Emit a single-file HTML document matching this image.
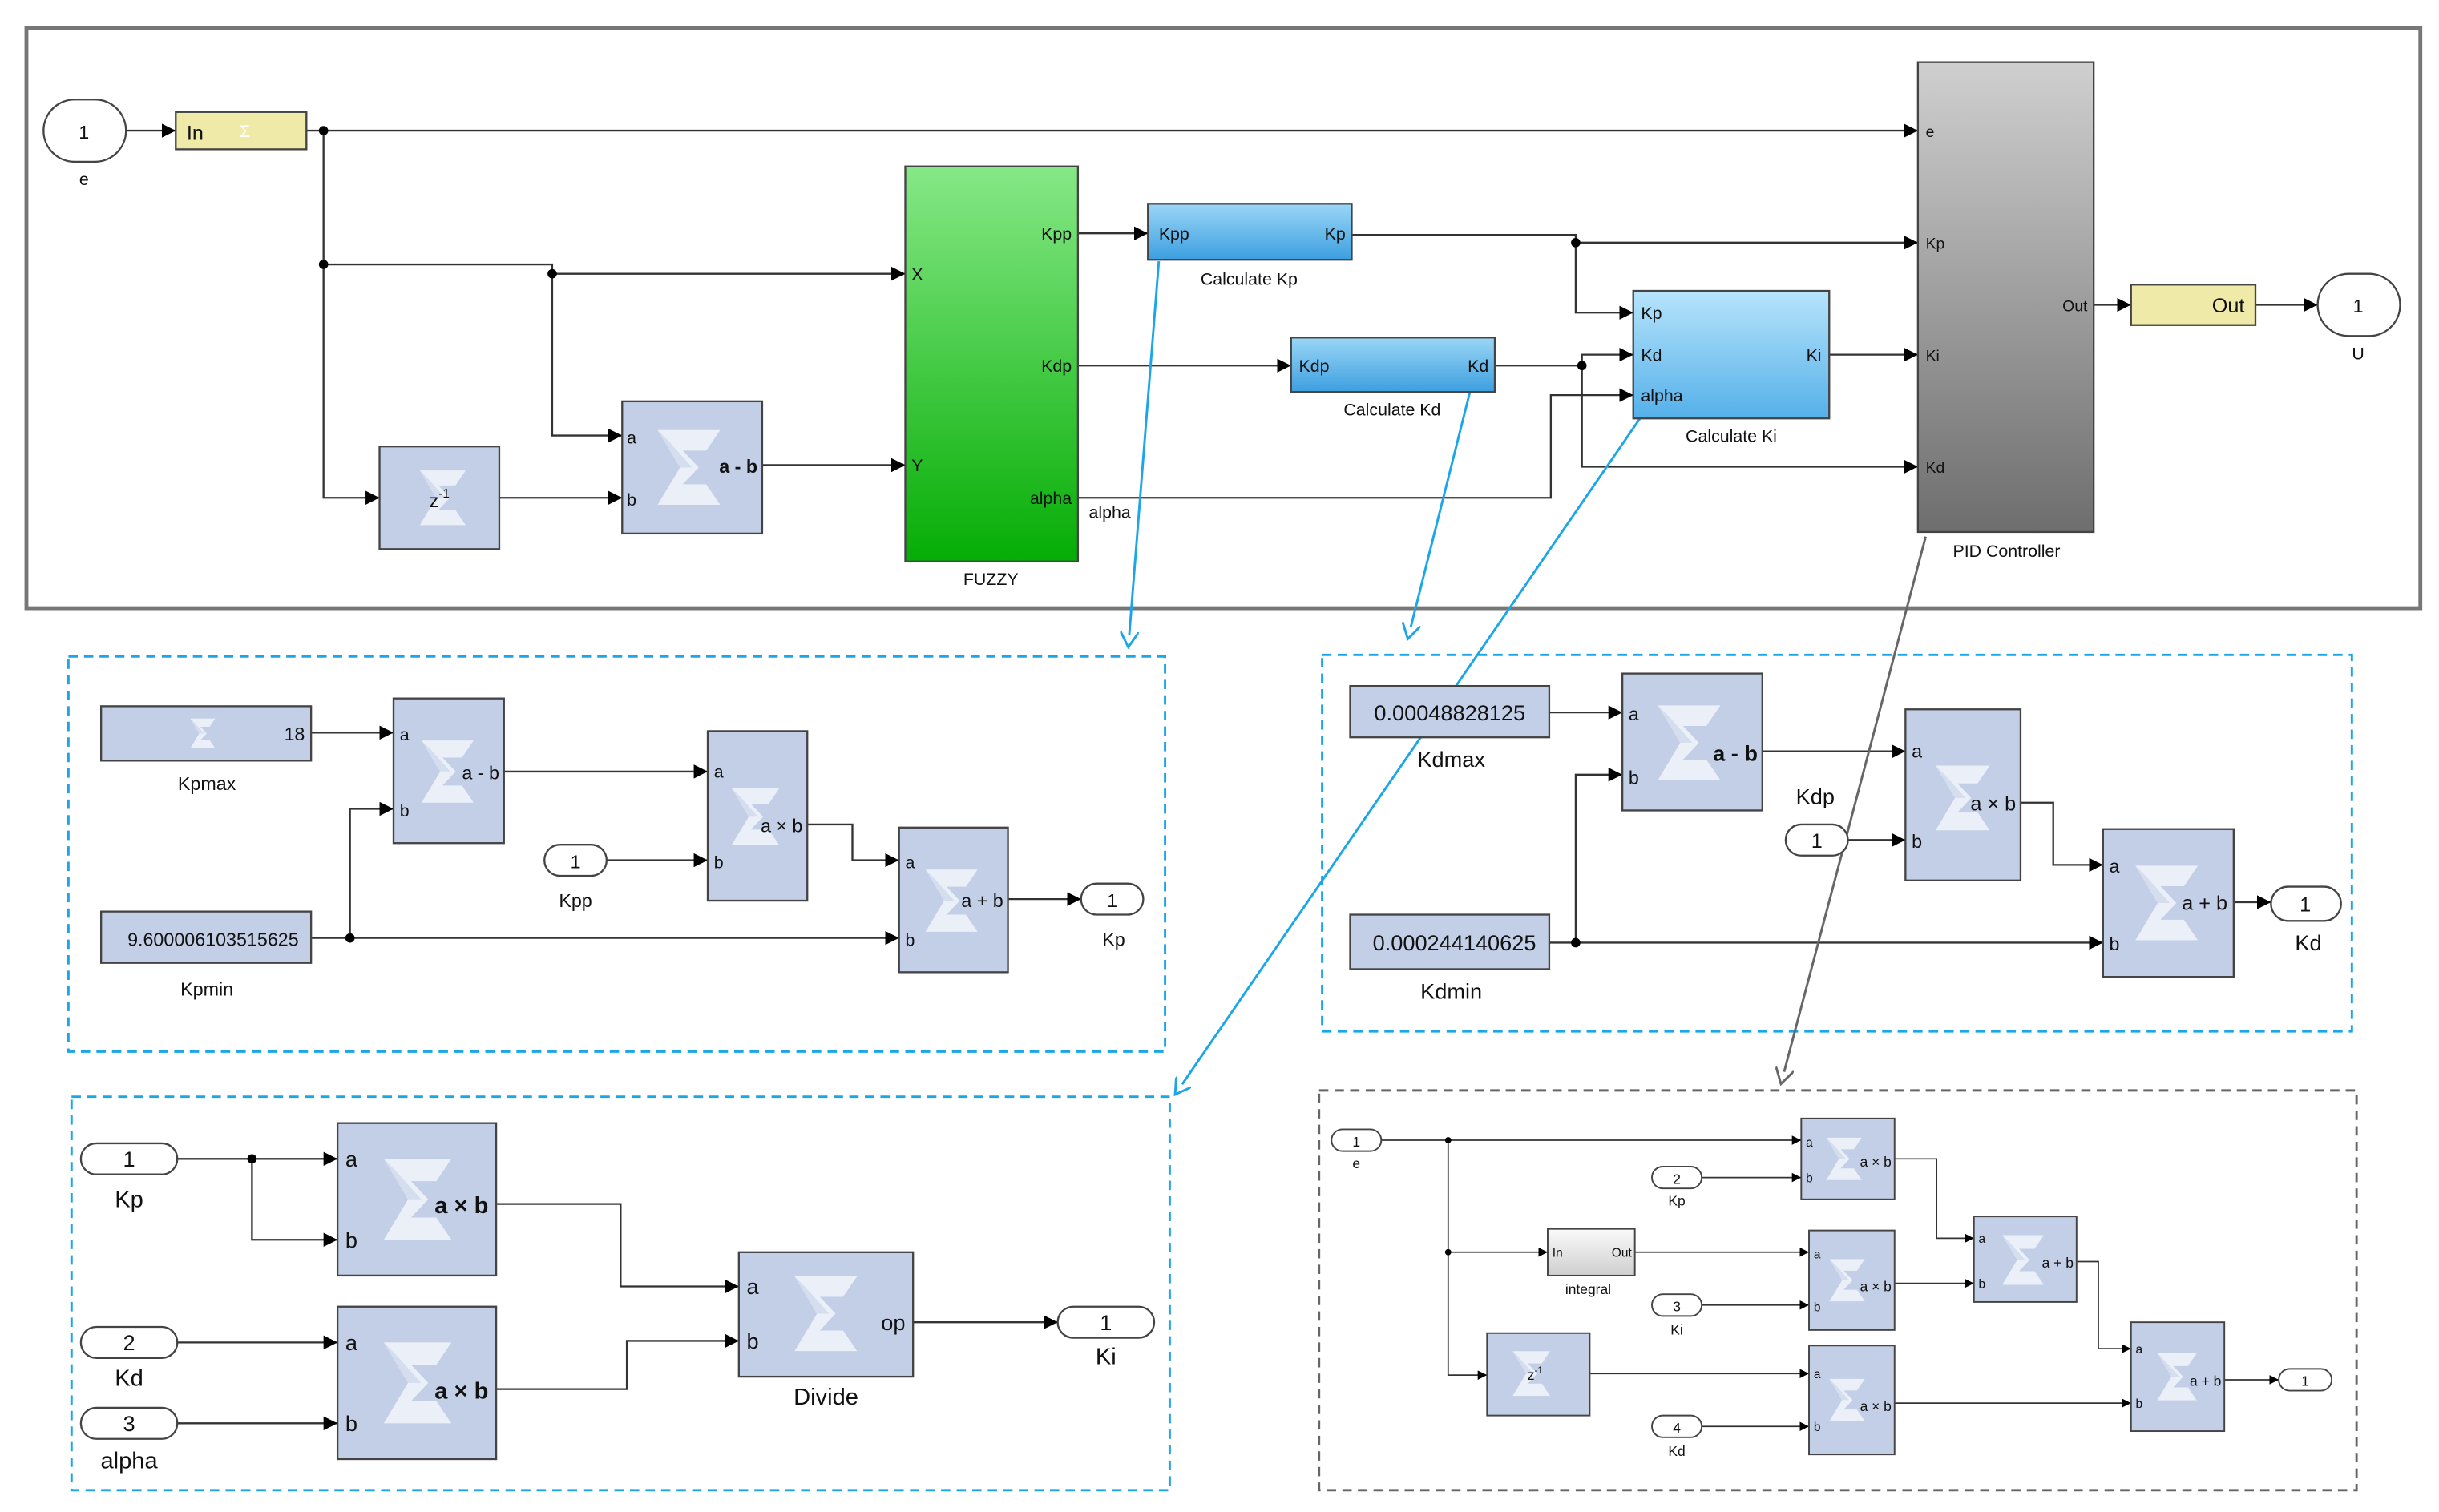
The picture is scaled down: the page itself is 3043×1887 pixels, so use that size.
<!DOCTYPE html>
<html><head><meta charset="utf-8"><style>
html,body{margin:0;padding:0;background:#fff}
svg{display:block}
text{font-family:"Liberation Sans",sans-serif;fill:#111}
</style></head><body>
<svg width="3043" height="1887" viewBox="0 0 1568 972" preserveAspectRatio="none" xmlns="http://www.w3.org/2000/svg">
<defs>
<marker id="a" markerUnits="userSpaceOnUse" markerWidth="9" markerHeight="9" refX="9" refY="4.5" orient="auto"><path d="M0,0 L9,4.5 L0,9 z" fill="#000"/></marker>
<marker id="s" markerUnits="userSpaceOnUse" markerWidth="6" markerHeight="6" refX="6" refY="3" orient="auto"><path d="M0,0 L6,3 L0,6 z" fill="#000"/></marker>
<marker id="ab" markerUnits="userSpaceOnUse" markerWidth="12" markerHeight="12" refX="2" refY="6" orient="auto"><path d="M0,0 L10,6 L0,12" fill="none" stroke="#1aa6e8" stroke-width="1.5"/></marker>
<marker id="ag" markerUnits="userSpaceOnUse" markerWidth="12" markerHeight="12" refX="2" refY="6" orient="auto"><path d="M0,0 L10,6 L0,12" fill="none" stroke="#666" stroke-width="1.5"/></marker>
<symbol id="sig" viewBox="0 0 100 100"><polygon points="18,10 85,10 70,32 45,32 62,50 45,68 70,68 85,90 18,90 42,50" fill="#eef2fa" opacity="0.9"/><polygon points="18,10 30,22 55,50 42,50" fill="#d5deee"/></symbol>
<linearGradient id="gg" x1="0" y1="0" x2="0" y2="1"><stop offset="0" stop-color="#86e886"/><stop offset="1" stop-color="#05ad05"/></linearGradient>
<linearGradient id="gb" x1="0" y1="0" x2="0" y2="1"><stop offset="0" stop-color="#9ad6f6"/><stop offset="1" stop-color="#3d9fe0"/></linearGradient>
<linearGradient id="gb2" x1="0" y1="0" x2="0" y2="1"><stop offset="0" stop-color="#b6e4fb"/><stop offset="1" stop-color="#55b0ea"/></linearGradient>
<linearGradient id="gp" x1="0" y1="0" x2="0" y2="1"><stop offset="0" stop-color="#cfcfcf"/><stop offset="1" stop-color="#6e6e6e"/></linearGradient>
<linearGradient id="gi" x1="0" y1="0" x2="0" y2="1"><stop offset="0" stop-color="#fafafa"/><stop offset="1" stop-color="#cfcfcf"/></linearGradient>
</defs>
<g stroke="#333" stroke-width="1.2" fill="none">
<!-- TOP -->
<rect x="17" y="18" width="1539" height="373" stroke="#777" stroke-width="2.5"/>
<path d="M81,84 H113" marker-end="url(#a)"/>
<path d="M197,84 H1233" marker-end="url(#a)"/>
<path d="M208,84 V320 H244" marker-end="url(#a)"/>
<path d="M208,170 H355 V280 H400" marker-end="url(#a)"/>
<path d="M355,176 H582" marker-end="url(#a)"/>
<path d="M321,320 H400" marker-end="url(#a)"/>
<path d="M490,299 H582" marker-end="url(#a)"/>
<path d="M693,150 H738" marker-end="url(#a)"/>
<path d="M869,151 H1013 V156 H1233" marker-end="url(#a)"/>
<path d="M1013,156 V201 H1050" marker-end="url(#a)"/>
<path d="M693,235 H830" marker-end="url(#a)"/>
<path d="M961,235 H1017 V228 H1050" marker-end="url(#a)"/>
<path d="M1017,235 V300 H1233" marker-end="url(#a)"/>
<path d="M693,320 H997 V254 H1050" marker-end="url(#a)"/>
<path d="M1176,228 H1233" marker-end="url(#a)"/>
<path d="M1346,196 H1370" marker-end="url(#a)"/>
<path d="M1450,196 H1490" marker-end="url(#a)"/>
<!-- PANEL A -->
<rect x="44" y="422" width="705" height="254" stroke="#1aa6e8" stroke-width="1.5" stroke-dasharray="6,4"/>
<path d="M200,471 H253" marker-end="url(#a)"/>
<path d="M200,603 H578" marker-end="url(#a)"/>
<path d="M225,603 V520 H253" marker-end="url(#a)"/>
<path d="M324,496 H455" marker-end="url(#a)"/>
<path d="M390,553 H455" marker-end="url(#a)"/>
<path d="M519,530 H548 V553 H578" marker-end="url(#a)"/>
<path d="M648,578 H695" marker-end="url(#a)"/>
<!-- PANEL B -->
<rect x="850" y="421" width="662" height="242" stroke="#1aa6e8" stroke-width="1.5" stroke-dasharray="6,4"/>
<path d="M996,458 H1043" marker-end="url(#a)"/>
<path d="M996,606 H1352" marker-end="url(#a)"/>
<path d="M1013,606 V498 H1043" marker-end="url(#a)"/>
<path d="M1133,483 H1225" marker-end="url(#a)"/>
<path d="M1188,540 H1225" marker-end="url(#a)"/>
<path d="M1299,516 H1320 V556 H1352" marker-end="url(#a)"/>
<path d="M1436,580 H1460" marker-end="url(#a)"/>
<!-- PANEL C -->
<rect x="46" y="705" width="706" height="253" stroke="#1aa6e8" stroke-width="1.5" stroke-dasharray="6,4"/>
<path d="M114,745 H217" marker-end="url(#a)"/>
<path d="M162,745 V797 H217" marker-end="url(#a)"/>
<path d="M114,863 H217" marker-end="url(#a)"/>
<path d="M114,915 H217" marker-end="url(#a)"/>
<path d="M319,774 H399 V827 H475" marker-end="url(#a)"/>
<path d="M319,893 H403 V862 H475" marker-end="url(#a)"/>
<path d="M587,850 H680" marker-end="url(#a)"/>
<!-- PANEL D -->
<rect x="848" y="701" width="667" height="257" stroke="#666" stroke-width="1.5" stroke-dasharray="6,4"/>
<g stroke-width="0.9">
<path d="M888,733 H1158" marker-end="url(#s)"/>
<path d="M931,733 V884 H956" marker-end="url(#s)"/>
<path d="M931,805 H995" marker-end="url(#s)"/>
<path d="M1094,757 H1158" marker-end="url(#s)"/>
<path d="M1218,745 H1245 V796 H1269" marker-end="url(#s)"/>
<path d="M1051,805 H1163" marker-end="url(#s)"/>
<path d="M1094,839 H1163" marker-end="url(#s)"/>
<path d="M1218,825 H1269" marker-end="url(#s)"/>
<path d="M1335,811 H1349 V867 H1370" marker-end="url(#s)"/>
<path d="M1022,883 H1163" marker-end="url(#s)"/>
<path d="M1094,917 H1163" marker-end="url(#s)"/>
<path d="M1218,902 H1370" marker-end="url(#s)"/>
<path d="M1430,887 H1465" marker-end="url(#s)"/>
</g>
<!-- callouts -->
<path d="M745,168 L726,408" stroke="#1aa6e8" stroke-width="1.5" marker-end="url(#ab)"/>
<path d="M945,252 L907,403" stroke="#1aa6e8" stroke-width="1.5" marker-end="url(#ab)"/>
<path d="M1055,268 L760,697" stroke="#1aa6e8" stroke-width="1.5" marker-end="url(#ab)"/>
<path d="M1238,345 L1147,689" stroke="#666" stroke-width="1.5" marker-end="url(#ag)"/>
</g>
<!-- junction dots -->
<g fill="#000">
<circle cx="208" cy="84" r="3"/><circle cx="208" cy="170" r="3"/><circle cx="355" cy="176" r="3"/>
<circle cx="1013" cy="156" r="3"/><circle cx="1017" cy="235" r="3"/>
<circle cx="225" cy="603" r="3"/><circle cx="1013" cy="606" r="3"/><circle cx="162" cy="745" r="3"/>
<circle cx="931" cy="733" r="2"/><circle cx="931" cy="805" r="2"/>
</g>
<!-- TOP blocks -->
<g stroke="#444" stroke-width="1.2">
<rect x="28" y="64" width="53" height="40" rx="20" fill="#fff"/>
<rect x="113" y="72" width="84" height="24" fill="#f0eaa8"/>
<rect x="244" y="287" width="77" height="66" fill="#c3cfe6"/>
<rect x="400" y="258" width="90" height="85" fill="#c3cfe6"/>
<rect x="582" y="107" width="111" height="254" fill="url(#gg)"/>
<rect x="738" y="131" width="131" height="36" fill="url(#gb)"/>
<rect x="830" y="217" width="131" height="35" fill="url(#gb)"/>
<rect x="1050" y="187" width="126" height="82" fill="url(#gb2)"/>
<rect x="1233" y="40" width="113" height="302" fill="url(#gp)"/>
<rect x="1370" y="183" width="80" height="26" fill="#f0eaa8"/>
<rect x="1490" y="176" width="53" height="40" rx="20" fill="#fff"/>
</g>
<use href="#sig" x="262" y="295" width="44" height="50"/>
<use href="#sig" x="412" y="268" width="60" height="65"/>
<text x="54" y="89" font-size="12" text-anchor="middle">1</text>
<text x="54" y="119" font-size="11" text-anchor="middle">e</text>
<text x="120" y="90" font-size="13">In</text>
<text x="154" y="88" font-size="11" fill="#fff" style="fill:#fff">Σ</text>
<text x="276" y="326" font-size="12">z<tspan font-size="8" dy="-6">-1</tspan></text>
<text x="403" y="285" font-size="11">a</text><text x="403" y="325" font-size="11">b</text>
<text x="487" y="304" font-size="12" text-anchor="end" font-weight="bold">a - b</text>
<text x="586" y="180" font-size="11">X</text><text x="586" y="303" font-size="11">Y</text>
<text x="689" y="154" font-size="11" text-anchor="end">Kpp</text>
<text x="689" y="239" font-size="11" text-anchor="end">Kdp</text>
<text x="689" y="324" font-size="11" text-anchor="end">alpha</text>
<text x="700" y="333" font-size="11">alpha</text>
<text x="637" y="376" font-size="11" text-anchor="middle">FUZZY</text>
<text x="745" y="154" font-size="11">Kpp</text><text x="865" y="154" font-size="11" text-anchor="end">Kp</text>
<text x="803" y="183" font-size="11" text-anchor="middle">Calculate Kp</text>
<text x="835" y="239" font-size="11">Kdp</text><text x="957" y="239" font-size="11" text-anchor="end">Kd</text>
<text x="895" y="267" font-size="11" text-anchor="middle">Calculate Kd</text>
<text x="1055" y="205" font-size="11">Kp</text><text x="1055" y="232" font-size="11">Kd</text><text x="1055" y="258" font-size="11">alpha</text>
<text x="1171" y="232" font-size="11" text-anchor="end">Ki</text>
<text x="1113" y="284" font-size="11" text-anchor="middle">Calculate Ki</text>
<text x="1238" y="88" font-size="10">e</text><text x="1238" y="160" font-size="10">Kp</text>
<text x="1238" y="232" font-size="10">Ki</text><text x="1238" y="304" font-size="10">Kd</text>
<text x="1342" y="200" font-size="10" text-anchor="end">Out</text>
<text x="1290" y="358" font-size="11" text-anchor="middle">PID Controller</text>
<text x="1443" y="201" font-size="13" text-anchor="end">Out</text>
<text x="1516" y="201" font-size="12" text-anchor="middle">1</text>
<text x="1516" y="231" font-size="11" text-anchor="middle">U</text>
<!-- PANEL A blocks -->
<g stroke="#444" stroke-width="1.2">
<rect x="65" y="454" width="135" height="35" fill="#c3cfe6"/>
<rect x="65" y="586" width="135" height="33" fill="#c3cfe6"/>
<rect x="253" y="449" width="71" height="93" fill="#c3cfe6"/>
<rect x="350" y="543" width="40" height="20" rx="10" fill="#fff"/>
<rect x="455" y="470" width="64" height="109" fill="#c3cfe6"/>
<rect x="578" y="532" width="70" height="93" fill="#c3cfe6"/>
<rect x="695" y="568" width="40" height="20" rx="10" fill="#fff"/>
</g>
<use href="#sig" x="118" y="459" width="24" height="25"/>
<use href="#sig" x="262" y="465" width="50" height="62"/>
<use href="#sig" x="462" y="490" width="46" height="70"/>
<use href="#sig" x="586" y="548" width="50" height="62"/>
<text x="196" y="476" font-size="12" text-anchor="end">18</text>
<text x="133" y="508" font-size="12" text-anchor="middle">Kpmax</text>
<text x="137" y="608" font-size="12" text-anchor="middle">9.600006103515625</text>
<text x="133" y="640" font-size="12" text-anchor="middle">Kpmin</text>
<text x="257" y="476" font-size="11">a</text><text x="257" y="525" font-size="11">b</text>
<text x="321" y="501" font-size="12" text-anchor="end">a - b</text>
<text x="370" y="558" font-size="12" text-anchor="middle">1</text><text x="370" y="583" font-size="12" text-anchor="middle">Kpp</text>
<text x="459" y="500" font-size="11">a</text><text x="459" y="558" font-size="11">b</text>
<text x="516" y="535" font-size="12" text-anchor="end">a × b</text>
<text x="582" y="558" font-size="11">a</text><text x="582" y="608" font-size="11">b</text>
<text x="645" y="583" font-size="12" text-anchor="end">a + b</text>
<text x="715" y="583" font-size="12" text-anchor="middle">1</text><text x="716" y="608" font-size="12" text-anchor="middle">Kp</text>
<!-- PANEL B blocks -->
<g stroke="#444" stroke-width="1.2">
<rect x="868" y="441" width="128" height="33" fill="#c3cfe6"/>
<rect x="868" y="588" width="128" height="35" fill="#c3cfe6"/>
<rect x="1043" y="433" width="90" height="88" fill="#c3cfe6"/>
<rect x="1148" y="530" width="40" height="20" rx="10" fill="#fff"/>
<rect x="1225" y="456" width="74" height="110" fill="#c3cfe6"/>
<rect x="1352" y="533" width="84" height="95" fill="#c3cfe6"/>
<rect x="1460" y="570" width="45" height="22" rx="11" fill="#fff"/>
</g>
<use href="#sig" x="1055" y="445" width="60" height="65"/>
<use href="#sig" x="1235" y="478" width="52" height="70"/>
<use href="#sig" x="1362" y="548" width="60" height="65"/>
<text x="932" y="463" font-size="14" text-anchor="middle">0.00048828125</text>
<text x="933" y="493" font-size="14" text-anchor="middle">Kdmax</text>
<text x="935" y="611" font-size="14" text-anchor="middle">0.000244140625</text>
<text x="933" y="642" font-size="14" text-anchor="middle">Kdmin</text>
<text x="1047" y="463" font-size="12">a</text><text x="1047" y="504" font-size="12">b</text>
<text x="1130" y="489" font-size="14" text-anchor="end" font-weight="bold">a - b</text>
<text x="1167" y="517" font-size="14" text-anchor="middle">Kdp</text>
<text x="1168" y="545" font-size="13" text-anchor="middle">1</text>
<text x="1229" y="487" font-size="12">a</text><text x="1229" y="545" font-size="12">b</text>
<text x="1296" y="521" font-size="13" text-anchor="end">a × b</text>
<text x="1356" y="561" font-size="12">a</text><text x="1356" y="611" font-size="12">b</text>
<text x="1432" y="585" font-size="13" text-anchor="end">a + b</text>
<text x="1482" y="586" font-size="13" text-anchor="middle">1</text>
<text x="1484" y="611" font-size="14" text-anchor="middle">Kd</text>
<!-- PANEL C blocks -->
<g stroke="#444" stroke-width="1.2">
<rect x="52" y="735" width="62" height="20" rx="10" fill="#fff"/>
<rect x="52" y="853" width="62" height="20" rx="10" fill="#fff"/>
<rect x="52" y="905" width="62" height="20" rx="10" fill="#fff"/>
<rect x="217" y="722" width="102" height="98" fill="#c3cfe6"/>
<rect x="217" y="840" width="102" height="98" fill="#c3cfe6"/>
<rect x="475" y="805" width="112" height="80" fill="#c3cfe6"/>
<rect x="680" y="840" width="62" height="20" rx="10" fill="#fff"/>
</g>
<use href="#sig" x="235" y="735" width="65" height="72"/>
<use href="#sig" x="235" y="853" width="65" height="72"/>
<use href="#sig" x="500" y="812" width="60" height="65"/>
<text x="83" y="750" font-size="14" text-anchor="middle">1</text><text x="83" y="776" font-size="15" text-anchor="middle">Kp</text>
<text x="83" y="868" font-size="14" text-anchor="middle">2</text><text x="83" y="891" font-size="15" text-anchor="middle">Kd</text>
<text x="83" y="920" font-size="14" text-anchor="middle">3</text><text x="83" y="944" font-size="15" text-anchor="middle">alpha</text>
<text x="222" y="750" font-size="14">a</text><text x="222" y="802" font-size="14">b</text>
<text x="314" y="780" font-size="15" text-anchor="end" font-weight="bold">a × b</text>
<text x="222" y="868" font-size="14">a</text><text x="222" y="920" font-size="14">b</text>
<text x="314" y="899" font-size="15" text-anchor="end" font-weight="bold">a × b</text>
<text x="480" y="832" font-size="14">a</text><text x="480" y="867" font-size="14">b</text>
<text x="582" y="855" font-size="14" text-anchor="end">op</text>
<text x="531" y="903" font-size="15" text-anchor="middle">Divide</text>
<text x="711" y="855" font-size="14" text-anchor="middle">1</text><text x="711" y="877" font-size="15" text-anchor="middle">Ki</text>
<!-- PANEL D blocks -->
<g stroke="#444" stroke-width="1">
<rect x="856" y="726" width="32" height="14" rx="7" fill="#fff"/>
<rect x="1062" y="750" width="32" height="14" rx="7" fill="#fff"/>
<rect x="1062" y="832" width="32" height="14" rx="7" fill="#fff"/>
<rect x="1062" y="910" width="32" height="14" rx="7" fill="#fff"/>
<rect x="1465" y="880" width="34" height="14" rx="7" fill="#fff"/>
<rect x="1158" y="719" width="60" height="52" fill="#c3cfe6"/>
<rect x="995" y="790" width="56" height="30" fill="url(#gi)"/>
<rect x="1163" y="791" width="55" height="64" fill="#c3cfe6"/>
<rect x="1269" y="782" width="66" height="55" fill="#c3cfe6"/>
<rect x="956" y="857" width="66" height="53" fill="#c3cfe6"/>
<rect x="1163" y="865" width="55" height="70" fill="#c3cfe6"/>
<rect x="1370" y="850" width="60" height="70" fill="#c3cfe6"/>
</g>
<use href="#sig" x="1168" y="725" width="34" height="40"/>
<use href="#sig" x="1170" y="800" width="34" height="46"/>
<use href="#sig" x="1280" y="790" width="40" height="40"/>
<use href="#sig" x="966" y="862" width="36" height="42"/>
<use href="#sig" x="1170" y="875" width="34" height="50"/>
<use href="#sig" x="1380" y="860" width="38" height="50"/>
<g font-size="9">
<text x="872" y="737" text-anchor="middle" font-size="9">1</text><text x="872" y="751" text-anchor="middle" font-size="9">e</text>
<text x="1078" y="761" text-anchor="middle" font-size="9">2</text><text x="1078" y="775" text-anchor="middle" font-size="9">Kp</text>
<text x="1078" y="843" text-anchor="middle" font-size="9">3</text><text x="1078" y="858" text-anchor="middle" font-size="9">Ki</text>
<text x="1078" y="921" text-anchor="middle" font-size="9">4</text><text x="1078" y="936" text-anchor="middle" font-size="9">Kd</text>
<text x="1482" y="891" text-anchor="middle" font-size="9">1</text>
<text x="1161" y="737" font-size="8">a</text><text x="1161" y="760" font-size="8">b</text><text x="1216" y="750" text-anchor="end" font-size="9">a × b</text>
<text x="1166" y="809" font-size="8">a</text><text x="1166" y="843" font-size="8">b</text><text x="1216" y="830" text-anchor="end" font-size="9">a × b</text>
<text x="1166" y="886" font-size="8">a</text><text x="1166" y="920" font-size="8">b</text><text x="1216" y="907" text-anchor="end" font-size="9">a × b</text>
<text x="1272" y="799" font-size="8">a</text><text x="1272" y="828" font-size="8">b</text><text x="1333" y="815" text-anchor="end" font-size="9">a + b</text>
<text x="1373" y="870" font-size="8">a</text><text x="1373" y="905" font-size="8">b</text><text x="1428" y="891" text-anchor="end" font-size="9">a + b</text>
<text x="998" y="808" font-size="8">In</text><text x="1049" y="808" text-anchor="end" font-size="8">Out</text>
<text x="1021" y="832" text-anchor="middle" font-size="9">integral</text>
<text x="982" y="887" font-size="9">z<tspan font-size="6" dy="-4">-1</tspan></text>
</g>
</svg>
</body></html>
